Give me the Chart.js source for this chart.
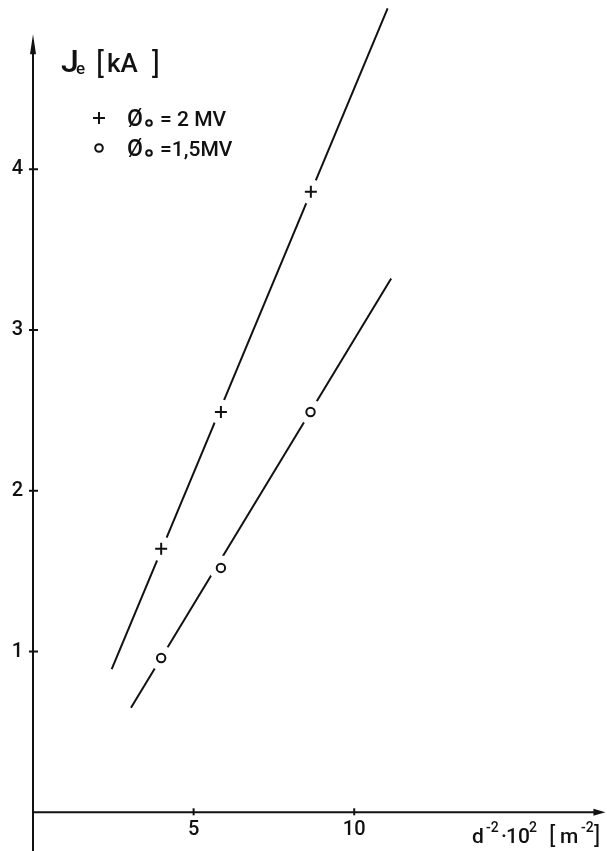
<!DOCTYPE html>
<html><head><meta charset="utf-8">
<script src="https://cdn.jsdelivr.net/npm/chart.js@4"></script>
<style>html,body{margin:0;padding:0;background:#fff}#wrap{width:607px;height:851px;position:relative}</style>
</head><body><div id="wrap"><canvas id="c"></canvas></div>
<script>
// ---- data ----
const xTicks = [5, 10];
const yTicks = [1, 2, 3, 4];
const plusX = [3.99, 5.85, 8.65];
const plusY = [1.64, 2.49, 3.86];
const circX = [3.99, 5.85, 8.64];
const circY = [0.96, 1.52, 2.49];
const plusLineX = [2.45, 11.04];
const plusLineY = [0.89, 5.00];
const circLineX = [3.05, 11.15];
const circLineY = [0.65, 3.32];
const legendLabels = ['= 2 MV', '=1,5MV'];
const xTitleParts = ['d', '-2', '\u00B7', '10', '2', '[', 'm', '-2', ']'];

const zip = (xs, ys) => xs.map((x, i) => ({x, y: ys[i]}));
const INK = '#111';
const FONT = 'Roboto, "DejaVu Sans Condensed", sans-serif';

const noPad = s => { s.paddingTop = 0; s.paddingBottom = 0; s.paddingLeft = 0; s.paddingRight = 0; };

const decor = {
  id: 'decor',
  afterDraw(chart) {
    const ctx = chart.ctx;
    const xs = chart.scales.x, ys = chart.scales.y;
    const x0 = xs.getPixelForValue(0), y0 = ys.getPixelForValue(0);
    ctx.save();
    ctx.strokeStyle = INK; ctx.fillStyle = INK; ctx.lineWidth = 2;
    // y axis
    const yTop = ys.getPixelForValue(4.84);
    ctx.beginPath(); ctx.moveTo(x0, 851); ctx.lineTo(x0, yTop + 6); ctx.stroke();
    ctx.beginPath(); ctx.moveTo(x0, yTop); ctx.lineTo(x0 - 3, yTop + 20); ctx.lineTo(x0 + 3, yTop + 20); ctx.closePath(); ctx.fill();
    // x axis
    const xRight = xs.getPixelForValue(17.82);
    ctx.beginPath(); ctx.moveTo(x0, y0); ctx.lineTo(xRight - 6, y0); ctx.stroke();
    ctx.beginPath(); ctx.moveTo(xRight, y0); ctx.lineTo(xRight - 12, y0 - 3.5); ctx.lineTo(xRight - 12, y0 + 3.5); ctx.closePath(); ctx.fill();
    // tick marks crossing the axes
    yTicks.forEach(v => { const p = ys.getPixelForValue(v); ctx.beginPath(); ctx.moveTo(x0 - 4, p); ctx.lineTo(x0 + 5, p); ctx.stroke(); });
    xTicks.forEach(v => { const p = xs.getPixelForValue(v); ctx.beginPath(); ctx.moveTo(p, y0 - 4); ctx.lineTo(p, y0 + 3); ctx.stroke(); });
    // y title  J_e [kA ]
    ctx.textBaseline = 'alphabetic'; ctx.textAlign = 'left';
    ctx.font = '500 32px ' + FONT;
    ctx.fillText('J', 61, 72);
    ctx.font = '500 17px ' + FONT;
    ctx.fillText('e', 76, 74);
    ctx.font = '400 30px ' + FONT;
    ctx.fillText('[', 96, 73);
    ctx.font = '500 26px ' + FONT;
    ctx.fillText('kA', 107, 72);
    ctx.font = '400 30px ' + FONT;
    ctx.fillText(']', 152, 73);
    // legend markers
    ctx.lineWidth = 2;
    ctx.beginPath(); ctx.moveTo(93, 118); ctx.lineTo(105, 118); ctx.moveTo(99, 112); ctx.lineTo(99, 124); ctx.stroke();
    ctx.beginPath(); ctx.arc(99, 148, 3.8, 0, Math.PI * 2); ctx.stroke();
    [118, 148].forEach((yy, i) => {
      ctx.font = '500 23px ' + FONT;
      ctx.fillText('\u00D8', 127, yy + 8);
      ctx.lineWidth = 2;
      ctx.beginPath(); ctx.arc(149, yy + 5, 2.8, 0, Math.PI * 2); ctx.stroke();
      ctx.font = '500 21px ' + FONT;
      ctx.fillText(legendLabels[i], 160, yy + 8);
    });
    // x title, placed piece by piece
    const px = [472, 486, 501, 506, 529, 549, 560, 581, 594];
    const sup = [false, true, false, false, true, false, false, true, false];
    xTitleParts.forEach((t, i) => {
      ctx.font = sup[i] ? '500 14px ' + FONT : (t === '[' || t === ']' ? '400 24px ' : '500 21px ') + FONT;
      ctx.fillText(t, px[i], sup[i] ? 832 : 843);
    });
    ctx.restore();
  }
};

new Chart(document.getElementById('c'), {
  type: 'scatter',
  data: {
    datasets: [
      { data: zip(plusX, plusY), pointStyle: 'cross', pointRadius: 6, borderColor: INK, borderWidth: 2, order: 0, clip: false },
      { data: zip(circX, circY), pointStyle: 'circle', pointRadius: 4.2, borderColor: INK, backgroundColor: '#fff', borderWidth: 2, order: 0, clip: false },
      { data: zip(plusX, plusY).concat(zip(circX, circY)), pointStyle: 'circle', pointRadius: 12.5, backgroundColor: '#fff', borderWidth: 0, borderColor: 'rgba(0,0,0,0)', order: 1, clip: false },
      { data: zip(plusLineX, plusLineY), showLine: true, pointRadius: 0, borderColor: INK, borderWidth: 2, order: 2, clip: false },
      { data: zip(circLineX, circLineY), showLine: true, pointRadius: 0, borderColor: INK, borderWidth: 2, order: 2, clip: false }
    ]
  },
  options: {
    responsive: true, maintainAspectRatio: false, animation: false, events: [],
    layout: { padding: 0 },
    plugins: { legend: { display: false }, tooltip: { enabled: false }, title: { display: false } },
    scales: {
      x: {
        type: 'linear', min: 0, max: 17.48,
        afterBuildTicks: s => { s.ticks = xTicks.map(v => ({ value: v })); },
        afterFit: s => { s.height = 38.7; noPad(s); },
        grid: { display: false, drawTicks: false }, border: { display: false },
        ticks: { color: INK, font: { family: FONT, size: 20, weight: 500 }, padding: 6, maxRotation: 0, autoSkip: false }
      },
      y: {
        type: 'linear', min: 0, max: 4.975,
        afterBuildTicks: s => { s.ticks = yTicks.map(v => ({ value: v })); },
        afterFit: s => { s.width = 33; noPad(s); },
        grid: { display: false, drawTicks: false }, border: { display: false },
        ticks: { color: INK, font: { family: FONT, size: 20, weight: 500 }, padding: 10, crossAlign: 'center', autoSkip: false }
      }
    }
  },
  plugins: [decor]
});
</script></body></html>
